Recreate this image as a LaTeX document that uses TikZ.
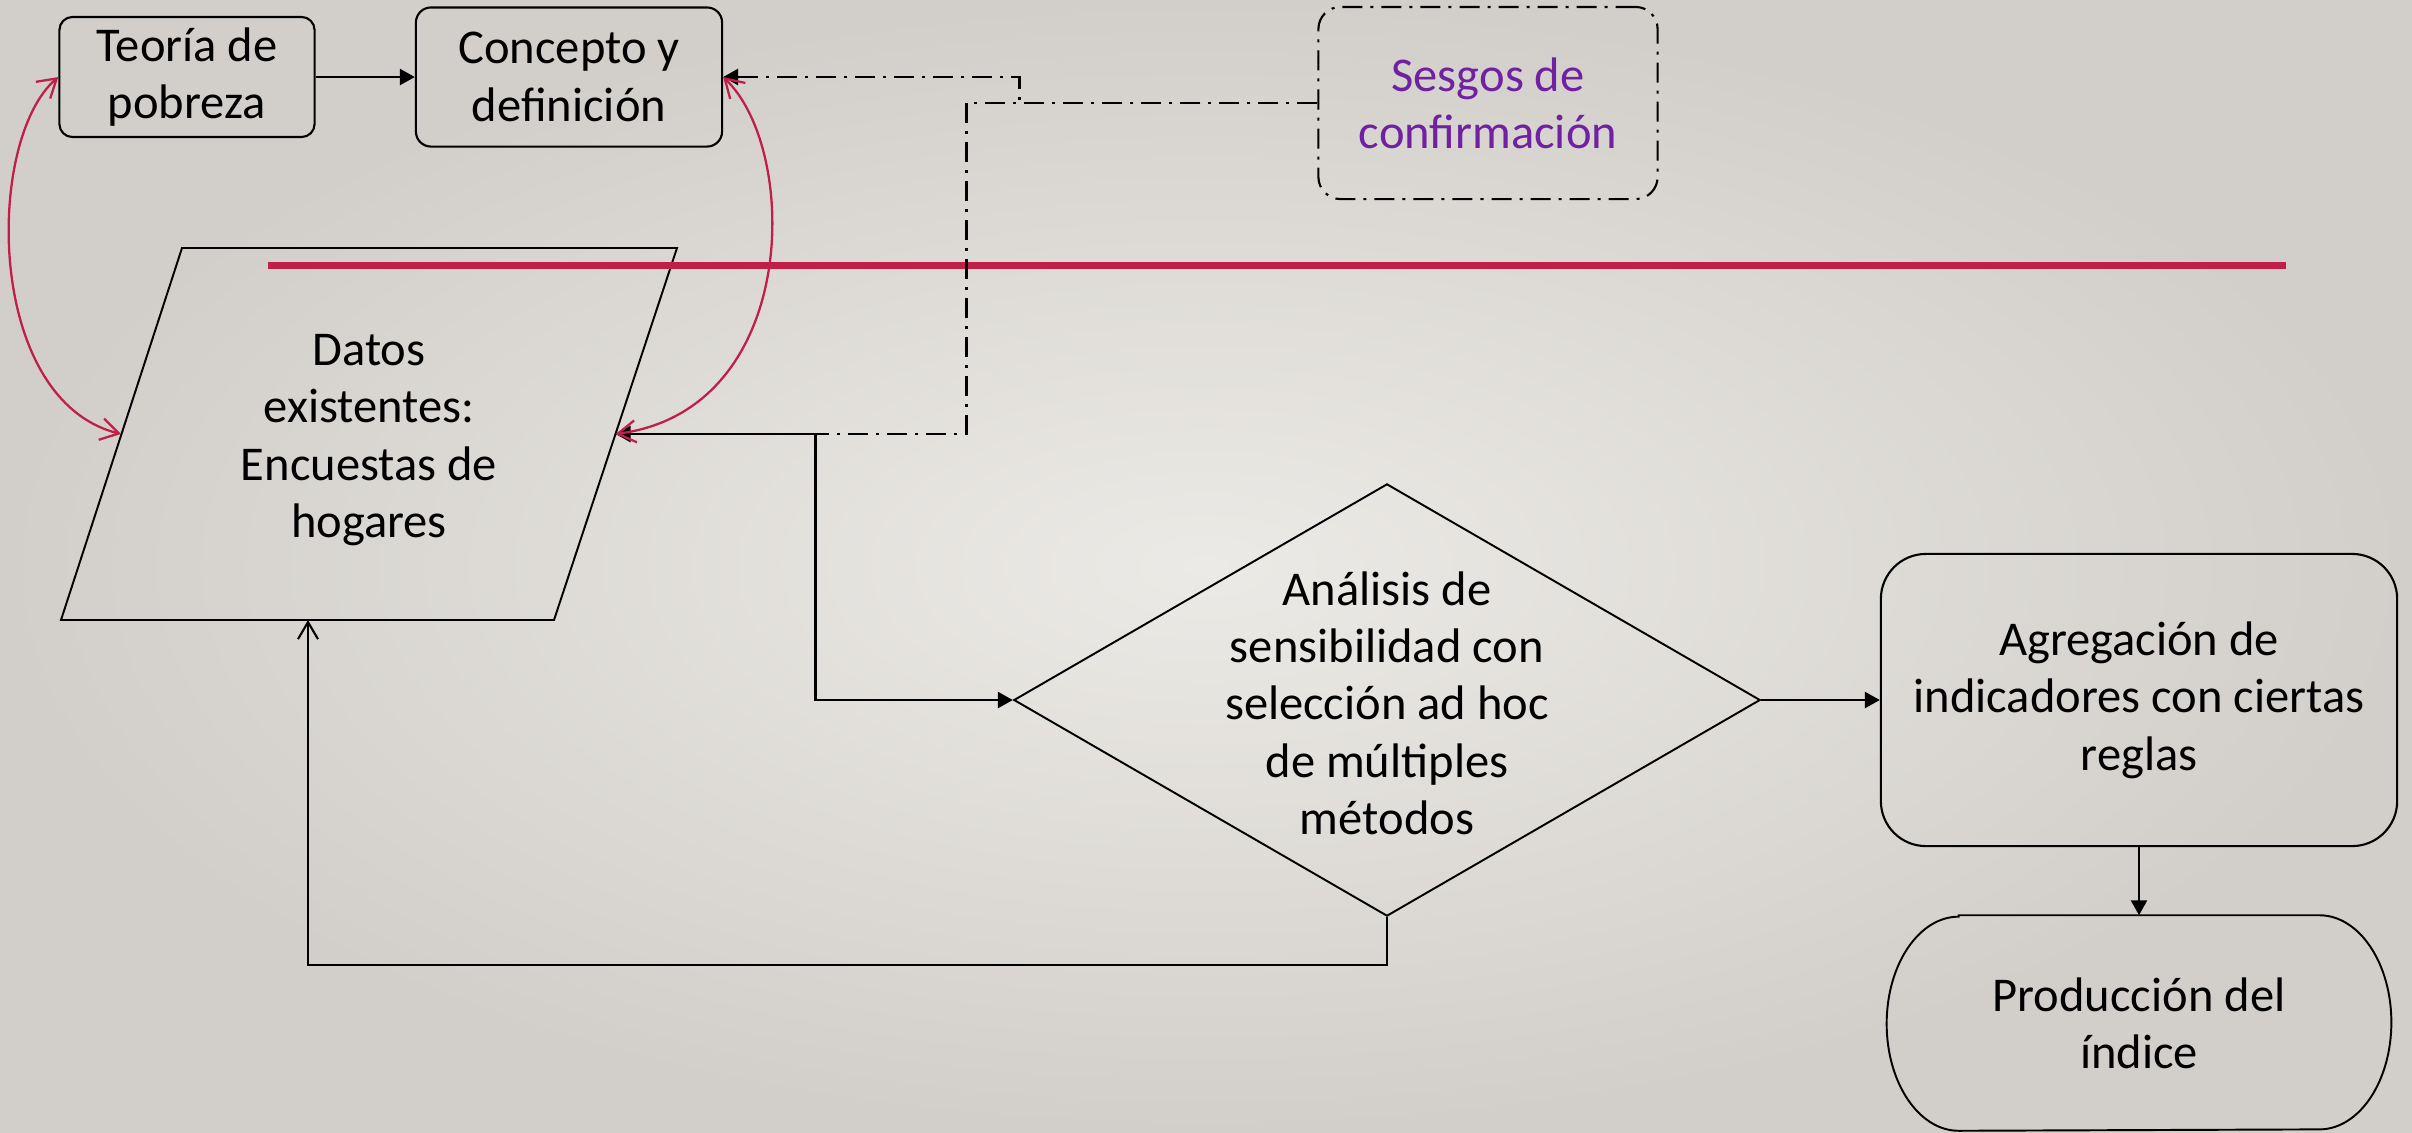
\documentclass[tikz,border=0pt]{standalone}
\usepackage{fontspec}
\setmainfont{Carlito}
\usetikzlibrary{arrows.meta,shapes.geometric}
\definecolor{bgin}{RGB}{236,234,230}
\definecolor{bgout}{RGB}{210,207,202}
\definecolor{crim}{RGB}{192,32,72}
\definecolor{purp}{RGB}{112,32,160}
\begin{document}
\begin{tikzpicture}[x=0.01cm,y=-0.01cm,
  txt/.style={font=\fontsize{13.8}{16.3}\selectfont, align=center, text=black},
  box/.style={draw=black, line width=0.6pt, inner sep=0pt},
  shapeline/.style={draw=black, line width=0.55pt},
  conn/.style={draw=black, line width=0.72pt, -{Triangle[length=1.5mm,width=1.6mm]}},
  ddash/.style={line width=0.8pt, dash pattern=on 2mm off 0.8mm on 0.3mm off 0.8mm},
  openarr/.style={draw=black, line width=0.6pt, -{Straight Barb[length=1.7mm,width=2mm]}},
  redarr/.style={draw=crim, line width=0.65pt, {Straight Barb[length=1.8mm,width=2.2mm]}-{Straight Barb[length=1.8mm,width=2.2mm]}},
]
% background
\fill[inner color=bgin, outer color=bgout] (0,0) rectangle (2412,1132);
\useasboundingbox (0,0) rectangle (2412,1132);

% nodes
\node[box, rounded corners=1.3mm, minimum width=2.55cm, minimum height=1.2cm, txt] (teoria) at (187,77) {Teoría de\\pobreza};
\node[box, rounded corners=1.5mm, minimum width=3.06cm, minimum height=1.39cm, txt] (concepto) at (569,77) {Concepto y\\definición};
\node[box, ddash, line width=0.6pt, rounded corners=2.2mm, minimum width=3.39cm, minimum height=1.92cm, txt, text=purp] (sesgos) at (1488,103) {Sesgos de\\confirmación};

% parallelogram (Datos existentes)
\draw[shapeline] (182,248) -- (677,248) -- (554,620) -- (61,620) -- cycle;
\node[txt] (datos) at (369,440) {Datos\\existentes:\\Encuestas de\\hogares};
\coordinate (datosR) at (615.5,434);
\coordinate (datosL) at (121,434);
\coordinate (datosB) at (308,620);

% red horizontal line
\draw[crim, line width=2pt] (268,265) -- (2286,265);

\node[draw=black, line width=0.55pt, diamond, minimum width=7.46cm, minimum height=4.32cm, inner sep=0pt] (diam) at (1387,700) {};
\node[txt] (diamtxt) at (1387,703) {Análisis de\\sensibilidad con\\selección ad hoc\\de múltiples\\métodos};

\node[box, rounded corners=4.5mm, minimum width=5.16cm, minimum height=2.92cm, txt] (agreg) at (2139,700) {Agregación de\\indicadores con ciertas\\reglas};

\node[txt, minimum width=5.03cm, minimum height=2.14cm, inner sep=0pt] (prod) at (2139,1023) {Producción del\\índice};
\draw[shapeline] ([xshift=0.72cm]prod.north west) -- ([xshift=-0.72cm]prod.north east)
  arc[start angle=90, end angle=-90, x radius=0.72cm, y radius=1.07cm]
  -- ([xshift=0.72cm]prod.south west)
  arc[start angle=270, end angle=90, x radius=0.72cm, y radius=1.07cm] -- cycle;

% dash-dot connectors from Sesgos
\draw[ddash, -{Triangle[length=1.5mm,width=1.6mm]}] (sesgos.west) -- ++(-298,0) |- (concepto.east);
\draw[ddash, -{Triangle[length=1.5mm,width=1.6mm]}] (sesgos.west) -- ++(-351,0) -- ++(0,331) -- (datosR);

% solid connectors
\draw[conn] (teoria) -- (concepto);
\draw[conn] (datosR) -- ++(200,0) |- (diam.west);
\draw[conn] (diam.east) -- (agreg.west);
\draw[conn] (agreg.south) -- (prod.north);
\draw[openarr] (diam.south) -- ++(0,48) -| (datosB);

% red curved double arrows
\draw[redarr] (teoria.west) .. controls (-15,140) and (-15,400) .. (datosL);
\draw[redarr] (concepto.east) .. controls (800,150) and (800,410) .. (datosR);
\end{tikzpicture}
\end{document}
